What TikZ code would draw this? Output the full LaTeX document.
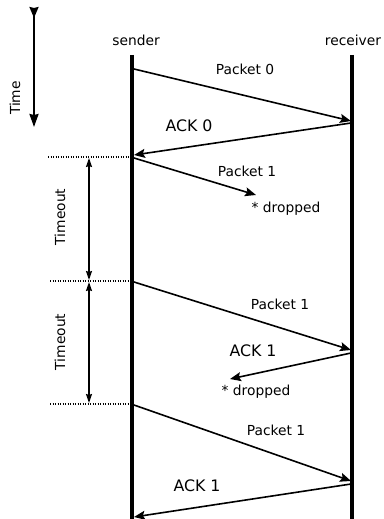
\documentclass[tikz,border=0pt]{standalone}
\usepackage{fontspec}
\setmainfont{DejaVu Sans}
\usetikzlibrary{arrows.meta}
\begin{document}
\begin{tikzpicture}[x=1pt,y=-1pt,
  lifeline/.style={line width=4pt},
  msg/.style={line width=1.6pt,-{Stealth[length=11pt,width=9pt,inset=2pt]}},
  lbl/.style={font=\fontsize{13.8}{16}\selectfont,inner sep=0pt},
  acklbl/.style={font=\fontsize{15.8}{18}\selectfont,inner sep=0pt},
  guide/.style={line width=1.3pt,dash pattern=on 1.3pt off 1.2pt},
  span/.style={line width=1.5pt,{Stealth[length=9pt,width=6pt,inset=1pt]}-{Stealth[length=9pt,width=6pt,inset=1pt]}},
  timearrow/.style={line width=2pt,{Stealth[length=11pt,width=9pt,inset=1pt,reversed]}-{Stealth[length=13pt,width=9pt,inset=1pt]}}
]
\useasboundingbox (0,0) rectangle (383,519);

% lifelines
\coordinate (sTop) at (132,55);
\coordinate (sBot) at (132,519);
\coordinate (rTop) at (352,55);
\coordinate (rBot) at (352,519);
\draw[lifeline] (sTop) -- (sBot);
\draw[lifeline] (rTop) -- (rBot);
\node[lbl] (sender) at (136,40) {sender};
\node[lbl] (receiver) at (353,40) {receiver};

% time axis
\coordinate (tTop) at (34,7);
\coordinate (tBot) at (34,127);
\draw[timearrow] (tTop) -- (tBot);
\node[lbl,rotate=90] (time) at (15,98) {Time};

% message end points
\coordinate (p0s) at (134,69);
\coordinate (p0r) at (351,121);
\coordinate (a0r) at (351,123);
\coordinate (a0s) at (134,155);
\coordinate (p1s) at (134,158);
\coordinate (p1x) at (256,195);
\coordinate (p2s) at (134,282);
\coordinate (p2r) at (351,350);
\coordinate (a1r) at (351,353);
\coordinate (a1x) at (230,379);
\coordinate (p3s) at (134,405);
\coordinate (p3r) at (351,481);
\coordinate (a2r) at (351,484);
\coordinate (a2s) at (134,517);

% messages
\draw[msg] (p0s) -- (p0r);
\node[lbl] (lp0) at (245,69) {Packet 0};
\draw[msg] (a0r) -- (a0s);
\node[acklbl] (la0) at (189,126) {ACK 0};
\draw[msg] (p1s) -- (p1x);
\node[lbl] (lp1) at (247,171) {Packet 1};
\node[lbl] (d1) at (286,209) {* dropped};
\draw[msg] (p2s) -- (p2r);
\node[lbl] (lp2) at (280,304) {Packet 1};
\draw[msg] (a1r) -- (a1x);
\node[acklbl] (la1) at (253,351) {ACK 1};
\node[lbl] (d2) at (256,392) {* dropped};
\draw[msg] (p3s) -- (p3r);
\node[lbl] (lp3) at (276,430) {Packet 1};
\draw[msg] (a2r) -- (a2s);
\node[acklbl] (la2) at (197,486) {ACK 1};

% timeout markers
\coordinate (g1a) at (48,157);
\coordinate (g1b) at (131,157);
\coordinate (g2a) at (50,281);
\coordinate (g2b) at (131,281);
\coordinate (g3a) at (50,404);
\coordinate (g3b) at (131,404);
\draw[guide] (g1a) -- (g1b);
\draw[guide] (g2a) -- (g2b);
\draw[guide] (g3a) -- (g3b);

\coordinate (t1a) at (89,158);
\coordinate (t1b) at (89,280);
\coordinate (t2a) at (89,282);
\coordinate (t2b) at (89,403);
\draw[span] (t1a) -- (t1b);
\draw[span] (t2a) -- (t2b);
\node[lbl,rotate=90] (to1) at (60,217) {Timeout};
\node[lbl,rotate=90] (to2) at (60,342) {Timeout};
\end{tikzpicture}
\end{document}
